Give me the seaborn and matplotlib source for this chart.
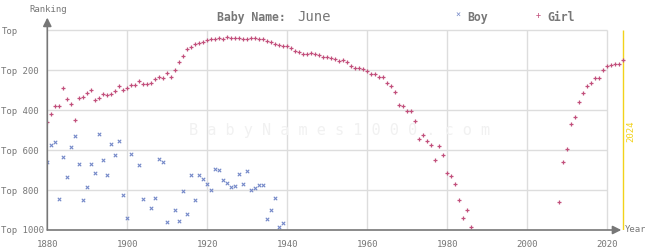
import matplotlib
matplotlib.use("Agg")
import matplotlib.pyplot as plt
import seaborn as sns
import pandas as pd

girl_years = list(range(1880, 1987)) + list(range(2008, 2025))
girl_ranks = [458, 422, 382, 382, 292, 347, 372, 452, 342, 337,
              317, 302, 352, 342, 322, 327, 322, 307, 282, 302,
              292, 277, 277, 257, 272, 272, 267, 247, 237, 242,
              217, 237, 202, 162, 132, 97, 87, 72, 67, 62,
              52, 47, 47, 42, 47, 37, 42, 42, 42, 47,
              47, 42, 42, 47, 47, 57, 62, 72, 77, 82,
              82, 92, 107, 112, 122, 122, 117, 122, 127, 137,
              137, 142, 147, 157, 152, 162, 182, 192, 192, 197,
              207, 222, 222, 237, 237, 267, 282, 312, 377, 382,
              407, 407, 457, 547, 527, 557, 577, 652, 582, 627,
              717, 732, 772, 852, 942, 902, 987,
              862, 662, 597, 472, 437, 362, 317, 282, 267, 242,
              242, 202, 182, 177, 172, 172, 152]

boy_years = [1880, 1881, 1882, 1883, 1884, 1885, 1886, 1887, 1888, 1889,
             1890, 1891, 1892, 1893, 1894, 1895, 1896, 1897, 1898, 1899,
             1900, 1901, 1903, 1904, 1906, 1907, 1908, 1909, 1910, 1912,
             1913, 1914, 1915, 1916, 1917, 1918, 1919, 1920, 1921, 1922,
             1923, 1924, 1925, 1926, 1927, 1928, 1929, 1930, 1931, 1932,
             1933, 1934, 1935, 1936, 1937, 1938, 1939]
boy_ranks = [662, 577, 562, 847, 637, 737, 587, 532, 672, 852,
             787, 672, 717, 522, 652, 727, 572, 627, 557, 827,
             942, 622, 677, 847, 892, 842, 647, 662, 962, 902,
             957, 807, 922, 727, 852, 727, 747, 772, 802, 697,
             702, 752, 767, 787, 782, 722, 772, 707, 802, 792,
             777, 777, 947, 902, 842, 987, 967]

y_ticks = [0, 200, 400, 600, 800, 1000]
y_labels = ["Top", "Top 200", "Top 400", "Top 600", "Top 800", "Top 1000"]
x_ticks = [1880, 1900, 1920, 1940, 1960, 1980, 2000, 2020]

GIRL = "#c2507c"
BOY = "#7488c8"
GRAY = "#777777"
GRID = "#dddddd"
GOLD = "#f2d21a"

sns.set_style("white")
plt.rcParams["font.family"] = ["DejaVu Sans Mono", "DejaVu Sans"]

fig = plt.figure(figsize=(6.45, 2.5), dpi=100)
ax = fig.add_axes([47.3 / 645, 20 / 250, 584 / 645, 213 / 250])
ax.set_xlim(1880, 2026)
ax.set_ylim(1000, -65)
for s in ax.spines.values():
    s.set_visible(False)

# grid
ax.hlines(y_ticks[:-1], 1880, 2020, color=GRID, lw=1, zorder=0)
ax.vlines(x_ticks[1:], 0, 1000, color=GRID, lw=1, zorder=0)

# watermark
ax.text(1953, 505, "B a b y N a m e s 1 0 0 0 . c o m", fontsize=11,
        color="#f1f1f1", ha="center", va="center", zorder=0)

# current year line
ax.vlines([2024], 0, 1000, color=GOLD, lw=1, zorder=1)
ax.text(2026, 505, "2024", rotation=90, fontsize=6.5, color=GOLD,
        ha="center", va="center")

gdf = pd.DataFrame({"year": girl_years, "rank": girl_ranks})
bdf = pd.DataFrame({"year": boy_years, "rank": boy_ranks})
sns.scatterplot(data=bdf, x="year", y="rank", marker="x", color=BOY, s=6,
                linewidth=0.8, ax=ax, zorder=3, legend=False)
sns.scatterplot(data=gdf, x="year", y="rank", marker="+", color=GIRL, s=9,
                linewidth=0.9, ax=ax, zorder=3, legend=False)

# axes with arrows
ax.annotate("", xy=(1880, -62), xytext=(1880, 1000), xycoords="data",
            arrowprops=dict(arrowstyle="-|>,head_length=0.5,head_width=0.25",
                            color=GRAY, lw=1.2, shrinkA=0, shrinkB=0),
            annotation_clip=False)
ax.annotate("", xy=(2023.5, 1000), xytext=(1880, 1000), xycoords="data",
            arrowprops=dict(arrowstyle="-|>,head_length=0.5,head_width=0.25",
                            color=GRAY, lw=1.2, shrinkA=0, shrinkB=0),
            annotation_clip=False)

ax.set_yticks(y_ticks)
ax.set_yticklabels(y_labels)
ax.set_xticks(x_ticks)
ax.set_xticklabels([str(x) for x in x_ticks])
ax.tick_params(axis="both", length=0, labelsize=6.5, labelcolor=GRAY)
ax.tick_params(axis="x", pad=7)
for lab in ax.get_yticklabels():
    lab.set_horizontalalignment("left")
ax.tick_params(axis="y", pad=33)
ax.set_xlabel("")
ax.set_ylabel("")

fig.text(48 / 645, 1 - 9 / 250, "Ranking", fontsize=6.5, color=GRAY,
         ha="center", va="center")
fig.text(625 / 645, 20 / 250, "Year", fontsize=6.5, color=GRAY,
         ha="left", va="center")

# title
fig.text(217 / 645, 1 - 17 / 250, "Baby Name:", fontsize=8.3, color=GRAY,
         fontweight="bold", ha="left", va="center")
fig.text(297 / 645, 1 - 17 / 250, "June", fontsize=10, color=GRAY,
         ha="left", va="center")

# legend
fig.text(458 / 645, 1 - 15 / 250, "\u00d7", fontsize=6, color=BOY,
         ha="center", va="center")
fig.text(467 / 645, 1 - 17 / 250, "Boy", fontsize=8.3, color=GRAY,
         fontweight="bold", ha="left", va="center")
fig.text(538 / 645, 1 - 15 / 250, "+", fontsize=6, color=GIRL,
         ha="center", va="center")
fig.text(547 / 645, 1 - 17 / 250, "Girl", fontsize=8.3, color=GRAY,
         fontweight="bold", ha="left", va="center")

fig.savefig("out.png", dpi=100)
